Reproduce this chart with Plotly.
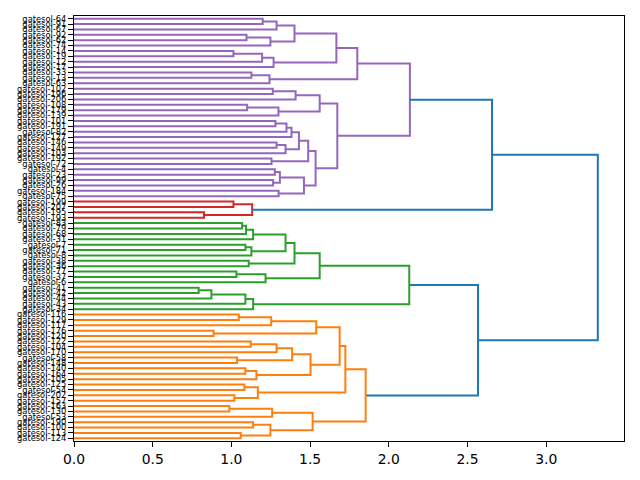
import plotly.graph_objects as go

# Leaf labels, top to bottom
leaf_labels = [
    "gatesol-64", "gatesol-91", "gatesol-67", "gatesol-92", "gatesol-62", "gatesol-74",
    "gatesol-14", "gatesol-19", "gatesol-12", "gatesol-17", "gatesol-33", "gatesol-13",
    "gatesol-63", "gatesol-102", "gatesol-196", "gatesol-206", "gatesol-108", "gatesol-179",
    "gatesol-139", "gatesol-101", "gatesol-191", "gatesol-82", "gatesol-127", "gatesol-146",
    "gatesol-149", "gatesol-103", "gatesol-192", "gatesol-72", "gatesol-4", "gatesol-23",
    "gatesol-99", "gatesol-26", "gatesol-184", "gatesol-75", "gatesol-199", "gatesol-207",
    "gatesol-195", "gatesol-193", "gatesol-83", "gatesol-79", "gatesol-68", "gatesol-31",
    "gatesol-7", "gatesol-71", "gatesol-8", "gatesol-38", "gatesol-36", "gatesol-77",
    "gatesol-37", "gatesol-6", "gatesol-41", "gatesol-42", "gatesol-44", "gatesol-43",
    "gatesol-34", "gatesol-116", "gatesol-129", "gatesol-117", "gatesol-176", "gatesol-120",
    "gatesol-122", "gatesol-104", "gatesol-170", "gatesol-58", "gatesol-148", "gatesol-140",
    "gatesol-164", "gatesol-105", "gatesol-125", "gatesol-54", "gatesol-202", "gatesol-157",
    "gatesol-163", "gatesol-130", "gatesol-53", "gatesol-190", "gatesol-100", "gatesol-113",
    "gatesol-124",
]

# Linkage: node ids 0..N-1 are leaves (in display order), N+k is merge k
merge_left = [
    0, 79, 3, 81, 80, 6, 84, 85, 83, 10, 88, 87,
    13, 91, 16, 93, 92, 19, 96, 97, 23, 99, 98, 26, 101, 28, 30, 104, 32, 106, 103, 95, 90,
    34, 36, 112, 111,
    38, 116, 117, 42, 119, 118, 45, 121, 47, 124, 123, 50, 127, 128, 129, 126,
    55, 132, 58, 133, 60, 136, 63, 137, 65, 140, 139, 135, 68, 70, 144, 143, 72, 148, 75, 77, 150, 149, 147,
    131, 115,
]
merge_right = [
    1, 2, 4, 5, 82, 7, 8, 9, 86, 11, 12, 89,
    14, 15, 17, 18, 94, 20, 21, 22, 24, 25, 100, 27, 102, 29, 31, 105, 33, 107, 108, 109, 110,
    35, 37, 113, 114,
    39, 40, 41, 43, 44, 120, 46, 122, 48, 49, 125, 51, 52, 53, 54, 130,
    56, 57, 59, 134, 61, 62, 64, 138, 66, 67, 141, 142, 69, 71, 145, 146, 73, 74, 76, 78, 151, 152, 153,
    154, 155,
]
merge_height = [
    1.199, 1.287, 1.096, 1.248, 1.401, 1.013, 1.195, 1.268, 1.667, 1.127, 1.242, 1.800,
    1.263, 1.408, 1.100, 1.299, 1.561, 1.280, 1.350, 1.382, 1.287, 1.344, 1.429, 1.255, 1.488,
    1.276, 1.265, 1.308, 1.300, 1.461, 1.535, 1.673, 2.134,
    1.013, 0.826, 1.132, 2.656,
    1.068, 1.093, 1.138, 1.089, 1.127, 1.344, 1.110, 1.401, 1.032, 1.217, 1.561, 0.792, 0.873,
    1.089, 1.138, 2.130,
    1.047, 1.253, 0.887, 1.539, 1.123, 1.287, 1.036, 1.386, 1.089, 1.159, 1.503, 1.688, 1.083,
    1.019, 1.168, 1.724, 0.987, 1.259, 1.138, 1.059, 1.248, 1.516, 1.853,
    2.567, 3.328,
]

N = len(leaf_labels)
palette = ["#ff7f0e", "#2ca02c", "#d62728", "#9467bd", "#8c564b", "#e377c2"]
above_color = "#1f77b4"
threshold = 0.7 * max(merge_height)

# Node positions / heights
pos = {i: 5 + 10 * i for i in range(N)}
height = {i: 0.0 for i in range(N)}
leaves_of = {i: [i] for i in range(N)}
for k, (a, b, h) in enumerate(zip(merge_left, merge_right, merge_height)):
    nid = N + k
    pos[nid] = (pos[a] + pos[b]) / 2
    height[nid] = h
    leaves_of[nid] = leaves_of[a] + leaves_of[b]

# Cluster colouring (like scipy's color_threshold)
parent = {}
for k, (a, b) in enumerate(zip(merge_left, merge_right)):
    parent[a] = N + k
    parent[b] = N + k
cluster_roots = []
for k, h in enumerate(merge_height):
    nid = N + k
    if h < threshold and (nid not in parent or height[parent[nid]] >= threshold):
        cluster_roots.append(nid)
cluster_roots.sort(key=lambda n: -max(leaves_of[n]))  # bottom first
node_color = {}
for ci, root in enumerate(cluster_roots):
    stack = [root]
    while stack:
        n = stack.pop()
        node_color[n] = palette[ci % len(palette)]
        if n >= N:
            stack += [merge_left[n - N], merge_right[n - N]]

groups = {}
for k, (a, b, h) in enumerate(zip(merge_left, merge_right, merge_height)):
    nid = N + k
    col = node_color.get(nid, above_color) if h < threshold else above_color
    xs, ys = groups.setdefault(col, ([], []))
    xs += [height[a], h, h, height[b], None]
    ys += [pos[a], pos[a], pos[b], pos[b], None]

fig = go.Figure()
for col, (xs, ys) in groups.items():
    fig.add_trace(go.Scatter(x=xs, y=ys, mode="lines",
                             line=dict(color=col, width=2), hoverinfo="skip",
                             showlegend=False))

xmax = 1.05 * max(merge_height)
fig.update_layout(
    width=640, height=480,
    margin=dict(l=74, r=16, t=16, b=39),
    plot_bgcolor="white", paper_bgcolor="white",
    font=dict(family="DejaVu Sans", color="black"),
    showlegend=False,
)
fig.update_xaxes(
    range=[0, xmax],
    tickmode="array", tickvals=[0, 0.5, 1.0, 1.5, 2.0, 2.5, 3.0],
    tickformat=".1f",
    ticks="outside", ticklen=5, tickcolor="black",
    tickfont=dict(size=13.9),
    showgrid=False, zeroline=False,
    showline=True, linecolor="black", linewidth=1, mirror=True,
    automargin=False,
)
fig.update_yaxes(
    range=[10 * N, 0],
    tickmode="array", tickvals=[pos[i] for i in range(N)], ticktext=leaf_labels,
    ticks="outside", ticklen=5, tickcolor="black",
    tickfont=dict(size=8.3),
    showgrid=False, zeroline=False,
    showline=True, linecolor="black", linewidth=1, mirror=True,
    automargin=False,
)
fig.write_html("out.html")
